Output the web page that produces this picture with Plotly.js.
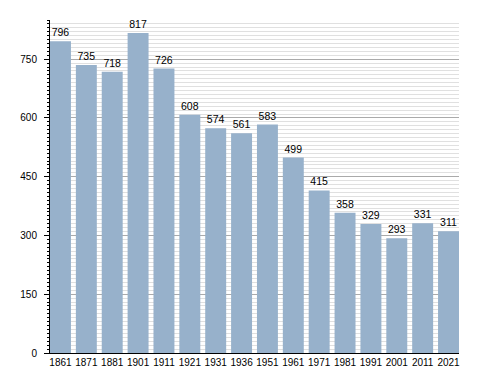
<!DOCTYPE html>
<html><head><meta charset="utf-8">
<script src="https://cdn.plot.ly/plotly-3.0.1.min.js"></script>
<style>html,body{margin:0;padding:0;background:#fff}#chart{width:488px;height:373px}</style>
</head><body><div id="chart"></div>
<script>
const years = ["1861","1871","1881","1901","1911","1921","1931","1936","1951","1961","1971","1981","1991","2001","2011","2021"];
const population = [796,735,718,817,726,608,574,561,583,499,415,358,329,293,331,311];
const yTicks = [0,150,300,450,600,750];

const trace = {
  type: 'bar',
  x: years,
  y: population,
  text: population.map(String),
  textposition: 'outside',
  cliponaxis: false,
  textfont: {family: 'Liberation Sans, Arial, sans-serif', size: 10.5, color: '#000'},
  marker: {color: '#97b1cb', line: {width: 0}},
  hoverinfo: 'none'
};

const layout = {
  width: 488, height: 373,
  margin: {l: 50, r: 29, t: 20, b: 20},
  paper_bgcolor: '#fff', plot_bgcolor: '#fff',
  bargap: 0.19,
  showlegend: false,
  font: {family: 'Liberation Sans, Arial, sans-serif', size: 10, color: '#000'},
  xaxis: {
    type: 'category',
    range: [-0.405, 15.405],
    showgrid: false, zeroline: false,
    showline: true, linecolor: '#000', linewidth: 1,
    ticks: '', tickangle: 0, tickfont: {size: 10, color: '#000'},
    fixedrange: true
  },
  yaxis: {
    range: [0, 850],
    tickvals: yTicks,
    ticktext: yTicks.map(String),
    ticks: 'outside', ticklen: 5, tickcolor: '#000', tickwidth: 1,
    ticklabelstandoff: 5,
    showline: true, linecolor: '#000', linewidth: 1,
    showgrid: true, gridcolor: '#aaaaaa', gridwidth: 1,
    zeroline: false,
    minor: {dtick: 10, tick0: 0, ticks: 'outside', ticklen: 2, tickcolor: '#000', showgrid: true, gridcolor: '#e0e0e0', gridwidth: 1},
    tickfont: {size: 10, color: '#000'},
    fixedrange: true
  }
};

Plotly.newPlot('chart', [trace], layout, {staticPlot: true, displayModeBar: false});
</script></body></html>
